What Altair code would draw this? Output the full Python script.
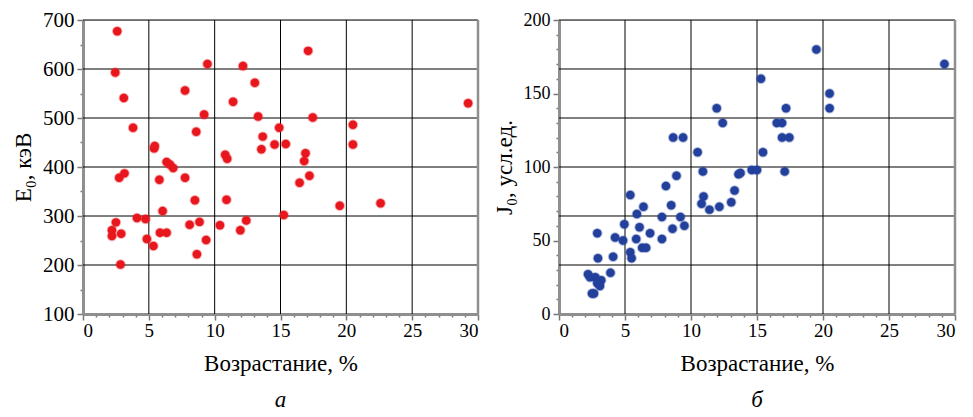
import altair as alt
import pandas as pd

FONT = "Liberation Serif"

# ---- panel a: E0 (keV) vs increase (%)
a_x = [2.6, 2.45, 3.1, 3.8, 5.4, 5.45, 2.75, 3.15, 2.5, 2.2, 2.2, 2.9, 2.85, 4.1, 4.75,
       4.85, 5.35, 5.8, 6.05, 5.85, 6.35, 6.35, 6.6, 6.85, 7.75, 7.75, 8.5, 8.1, 8.85,
       8.65, 8.6, 9.2, 9.45, 9.35, 10.4, 10.8, 10.95, 10.9, 11.4, 12.15, 11.95, 12.4,
       13.05, 13.3, 13.65, 13.55, 14.55, 14.9, 15.4, 15.25, 16.45, 16.9, 16.8, 17.2,
       17.1, 17.45, 19.5, 20.5, 20.5, 22.6, 29.25]
a_y = [677, 593, 541, 480, 438, 443, 378, 387, 287, 271, 259, 264, 201, 296, 294,
       253, 239, 374, 310, 266, 266, 410, 405, 398, 556, 378, 332, 282, 288,
       222, 472, 507, 610, 251, 281, 425, 417, 333, 533, 606, 271, 291,
       572, 503, 462, 436, 446, 480, 447, 302, 368, 428, 412, 382,
       637, 501, 321, 486, 446, 326, 530]

# ---- panel b: J0 (arb. units) vs increase (%)
b_x = [19.5, 29.2, 15.3, 20.5, 20.5, 11.95, 17.2, 12.4, 16.5, 16.9, 16.9, 17.45, 8.65,
       9.4, 10.5, 15.45, 10.9, 17.1, 14.6, 15.0, 13.6, 13.75, 13.3, 13.05, 8.9, 8.1,
       10.95, 10.8, 11.4, 12.15, 8.5, 9.2, 7.8, 9.5, 8.6, 7.8, 5.4, 6.4, 5.9, 6.1,
       5.85, 6.9, 6.3, 6.6, 4.95, 4.85, 4.25, 5.4, 5.5, 4.1, 3.9, 2.9, 2.95, 2.2,
       2.35, 2.75, 3.2, 3.1, 2.5, 2.65, 2.9]
b_y = [180, 170, 160, 150, 140, 140, 140, 130, 130, 130, 120, 120, 120,
       120, 110, 110, 97, 97, 98, 98, 95, 96, 84, 76, 94, 87,
       80, 75, 71, 73, 74, 66, 66, 60, 58, 51, 81, 73, 68, 59,
       51, 55, 45, 45, 61, 50, 52, 42, 38, 39, 28, 55, 38, 27,
       25, 25, 23, 19, 14, 14, 21]

x_ticks = list(range(0, 31))
x_grid = [5, 10, 15, 20, 25]
x_border = [30]

a_ticks = list(range(100, 701, 50))
a_grid = [200, 300, 400, 500, 600, 700]
b_ticks = list(range(0, 201, 10))
b_grid = [33.33, 66.67, 100, 133.33, 166.67, 200]

x_title = "Возрастание, %"
a_title = "E₀, кэВ"
b_title = "J₀, усл.ед."


def panel(xs, ys, color, ydom, yticks, ymajor, ygrid, ytitle, letter, ylab_size, w):
    xaxis = alt.Axis(
        values=x_ticks,
        labelExpr="datum.value % 5 === 0 ? datum.label : ''",
        labelOverlap=False,
        tickSize={"condition": {"test": "datum.value % 5 === 0", "value": 6}, "value": 3},
        tickColor="#777777", tickWidth=1.5,
        domainColor="#8f8f8f", domainWidth=3,
        grid=False,
        labelFont=FONT, labelFontSize=19, labelColor="black", labelPadding=1,
        titleFont=FONT, titleFontSize=23, titleFontWeight="normal", titleColor="black",
        titlePadding=12,
    )
    yaxis = alt.Axis(
        values=yticks,
        labelExpr=f"datum.value % {ymajor} === 0 ? datum.label : ''",
        labelOverlap=False,
        tickSize={"condition": {"test": f"datum.value % {ymajor} === 0", "value": 6}, "value": 3},
        tickColor="#777777", tickWidth=1.5,
        domainColor="#8f8f8f", domainWidth=3,
        grid=False,
        labelFont=FONT, labelFontSize=ylab_size, labelColor="black", labelPadding=3,
        titleFont=FONT, titleFontSize=23, titleFontWeight="normal", titleColor="black",
        titlePadding=7,
    )
    xenc = alt.X("x:Q", scale=alt.Scale(domain=[0, 30], nice=False, zero=False),
                 axis=xaxis, title=x_title)
    yenc = alt.Y("y:Q", scale=alt.Scale(domain=ydom, nice=False, zero=False),
                 axis=yaxis, title=ytitle)

    vgrid = alt.Chart(pd.DataFrame({"x": x_grid})).mark_rule(
        color="black", strokeWidth=1).encode(x=xenc)
    border = alt.Chart(pd.DataFrame({"x": x_border})).mark_rule(
        color="#8f8f8f", strokeWidth=2.5).encode(x=xenc)
    hgrid = alt.Chart(pd.DataFrame({"y": ygrid})).mark_rule(
        color="black", strokeWidth=1).encode(y=yenc)
    pts = alt.Chart(pd.DataFrame({"x": xs, "y": ys})).mark_circle(
        size=72, color=color, opacity=1, stroke=color, strokeWidth=2,
        strokeOpacity=0.35).encode(x=xenc, y=yenc)

    return alt.layer(vgrid, hgrid, border, pts).properties(
        width=w, height=294,
        title=alt.TitleParams(letter, orient="bottom", font=FONT, fontSize=23,
                              fontStyle="italic", fontWeight="normal", color="black",
                              offset=14),
    )


left = panel(a_x, a_y, "#E8161D", [100, 700], a_ticks, 100, a_grid, a_title, "а", 21, 395)
right = panel(b_x, b_y, "#22409C", [0, 200], b_ticks, 50, b_grid, b_title, "б", 18, 396)

chart = alt.hconcat(left, right, spacing=81, bounds="flush").properties(
    padding={"left": 12, "top": 8, "right": 0, "bottom": 0},
    background="white",
).configure_view(stroke=None).configure(font=FONT)

chart.save("out.html", embed_options={"renderer": "svg", "actions": False})
